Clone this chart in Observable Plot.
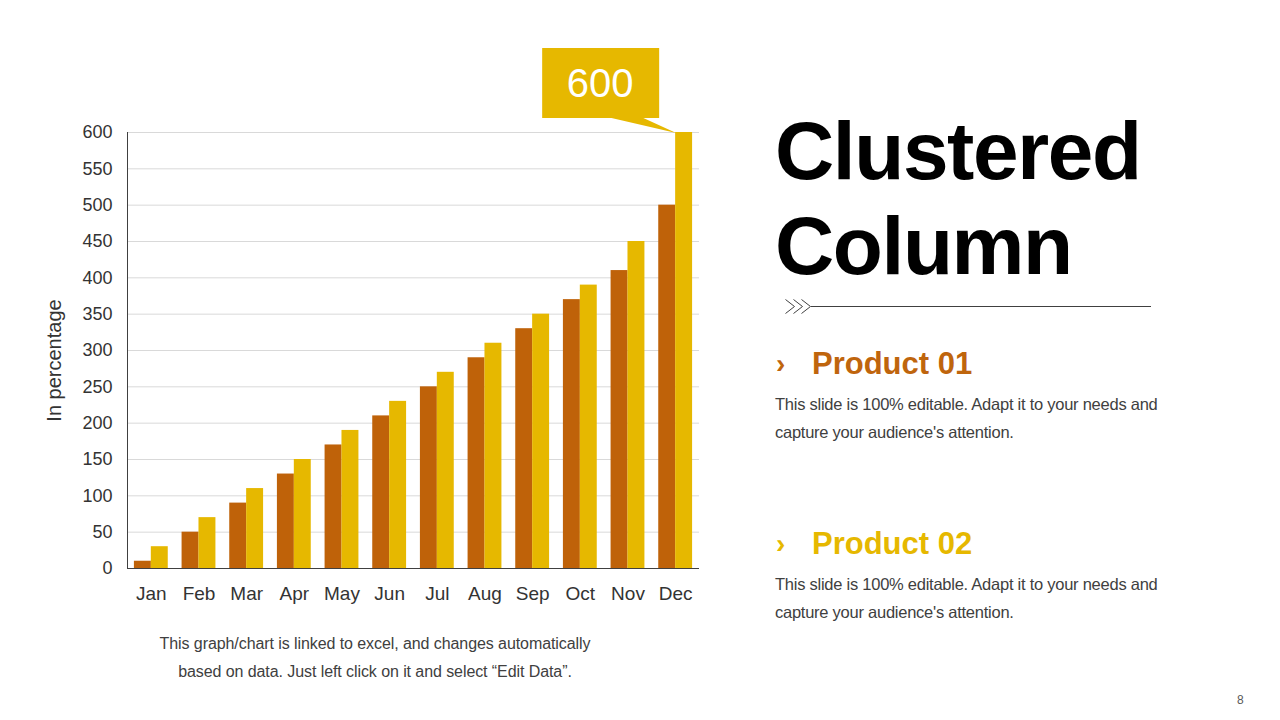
<!DOCTYPE html>
<html>
<head>
<meta charset="utf-8">
<script src="https://cdn.jsdelivr.net/npm/d3@7"></script>
<script src="https://cdn.jsdelivr.net/npm/@observablehq/plot@0.6"></script>
<style>
  html, body { margin: 0; padding: 0; background: #fff; }
  #page { position: relative; width: 1280px; height: 720px; overflow: hidden; font-family: "Liberation Sans", Arial, sans-serif; background: #fff; }
  #chart { position: absolute; left: 0; top: 0; }
  .abs { position: absolute; white-space: nowrap; }
  .title { left: 775px; top: 103px; font-size: 82px; line-height: 95px; font-weight: bold; color: #000; letter-spacing: -1.4px; }
  .prod { font-size: 31px; line-height: 31px; font-weight: bold; }
  .chev { font-size: 28px; line-height: 31px; font-weight: bold; }
  .desc { left: 775px; font-size: 16.5px; line-height: 28px; color: #404040; letter-spacing: -0.25px; }
  .note { left: 100px; width: 550px; text-align: center; font-size: 16px; line-height: 28px; color: #404040; top: 630px; white-space: normal; letter-spacing: -0.08px; }
</style>
</head>
<body>
<div id="page">
  <div id="chart"></div>
  <div class="abs title">Clustered<br>Column</div>
  <svg class="abs" style="left:780px;top:296px" width="380" height="20">
    <g fill="none" stroke="#404040" stroke-width="1">
      <polyline points="5.5,3.5 14.5,10.5 5.5,17.5"/>
      <polyline points="13.5,3.5 22.5,10.5 13.5,17.5"/>
      <polyline points="21.5,3.5 30.5,10.5 21.5,17.5"/>
      <line x1="31" y1="10.5" x2="371" y2="10.5"/>
    </g>
  </svg>
  <div class="abs chev" style="left:776px;top:348px;color:#BF650D">›</div>
  <div class="abs prod" style="left:812px;top:348px;color:#BF650D">Product 01</div>
  <div class="abs desc" style="top:390px">This slide is 100% editable. Adapt it to your needs and<br>capture your audience's attention.</div>
  <div class="abs chev" style="left:776px;top:528px;color:#E6B800">›</div>
  <div class="abs prod" style="left:812px;top:528px;color:#E6B800">Product 02</div>
  <div class="abs desc" style="top:570px">This slide is 100% editable. Adapt it to your needs and<br>capture your audience's attention.</div>
  <div class="abs note">This graph/chart is linked to excel, and changes automatically<br>based on data. Just left click on it and select “Edit Data”.</div>
  <div class="abs" style="left:1237px;top:693px;font-size:12px;color:#595959">8</div>
</div>
<script>
const months = ["Jan","Feb","Mar","Apr","May","Jun","Jul","Aug","Sep","Oct","Nov","Dec"];
const product01 = [10, 50, 90, 130, 170, 210, 250, 290, 330, 370, 410, 500];
const product02 = [30, 70, 110, 150, 190, 230, 270, 310, 350, 390, 450, 600];
const yTicks = [0, 50, 100, 150, 200, 250, 300, 350, 400, 450, 500, 550, 600];
const seriesNames = ["Product 01", "Product 02"];
const colors = ["#BF6209", "#E6B800"];

const rows1 = months.map((m, i) => ({month: m, series: seriesNames[0], value: product01[i]}));
const rows2 = months.map((m, i) => ({month: m, series: seriesNames[1], value: product02[i]}));

const maxIdx = product02.indexOf(d3.max(product02));
const callout = [{month: months[maxIdx], value: product02[maxIdx]}];

function calloutMark(index, scales, values, dimensions) {
  const ns = "http://www.w3.org/2000/svg";
  const g = document.createElementNS(ns, "g");
  // left axis line
  const L = document.createElementNS(ns, "line");
  L.setAttribute("x1", dimensions.marginLeft + 0.5);
  L.setAttribute("x2", dimensions.marginLeft + 0.5);
  L.setAttribute("y1", dimensions.marginTop);
  L.setAttribute("y2", dimensions.height - dimensions.marginBottom);
  L.setAttribute("stroke", "#404040");
  g.appendChild(L);
  const x = scales.x, y = scales.y;
  const bw = typeof x.bandwidth === "function" ? x.bandwidth() : (+x.bandwidth || 33.8);
  const d = callout[0];
  const bx = x(d.month) + bw / 2;
  const by = y(d.value);
  const tail = document.createElementNS(ns, "polygon");
  tail.setAttribute("points", `${bx-68},${by-15} ${bx-34},${by-15} ${bx+1},${by+1}`);
  tail.setAttribute("fill", colors[1]);
  g.appendChild(tail);
  const r = document.createElementNS(ns, "rect");
  r.setAttribute("x", bx - 133); r.setAttribute("y", by - 84);
  r.setAttribute("width", 117); r.setAttribute("height", 70);
  r.setAttribute("fill", colors[1]);
  g.appendChild(r);
  const t = document.createElementNS(ns, "text");
  t.setAttribute("x", bx - 75); t.setAttribute("y", by - 49);
  t.setAttribute("text-anchor", "middle");
  t.setAttribute("dy", "0.36em");
  t.setAttribute("fill", "#fff");
  t.setAttribute("font-size", "40");
  t.textContent = String(d.value);
  g.appendChild(t);
  return g;
}

const chart = Plot.plot({
  width: 720,
  height: 620,
  marginLeft: 127,
  marginRight: 21,
  marginTop: 132,
  marginBottom: 52,
  style: {fontFamily: "Liberation Sans, Arial, sans-serif", fontSize: "18px", color: "#333", background: "transparent"},
  x: {domain: months, paddingInner: 0.29, paddingOuter: 0.145, round: false, label: null},
  y: {domain: [0, 600], label: null},
  marks: [
    Plot.gridY(yTicks, {stroke: "#d9d9d9", strokeOpacity: 1}),
    Plot.barY(rows1, {x: "month", y: "value", fill: colors[0], insetRight: 16.9}),
    Plot.barY(rows2, {x: "month", y: "value", fill: colors[1], insetLeft: 16.9}),
    Plot.ruleY([0], {stroke: "#404040"}),
    Plot.axisX({tickSize: 0, tickPadding: 18, fontSize: 19, label: null}),
    Plot.axisY(yTicks, {tickSize: 0, tickPadding: 15, fontSize: 18, label: null}),
    Plot.text(["In percentage"], {text: d => d, frameAnchor: "left", dx: -73, dy: 10, rotate: -90, textAnchor: "middle", lineAnchor: "middle", fontSize: 20, fill: "#333"}),
    calloutMark
  ]
});
document.getElementById("chart").appendChild(chart);
</script>
</body>
</html>
